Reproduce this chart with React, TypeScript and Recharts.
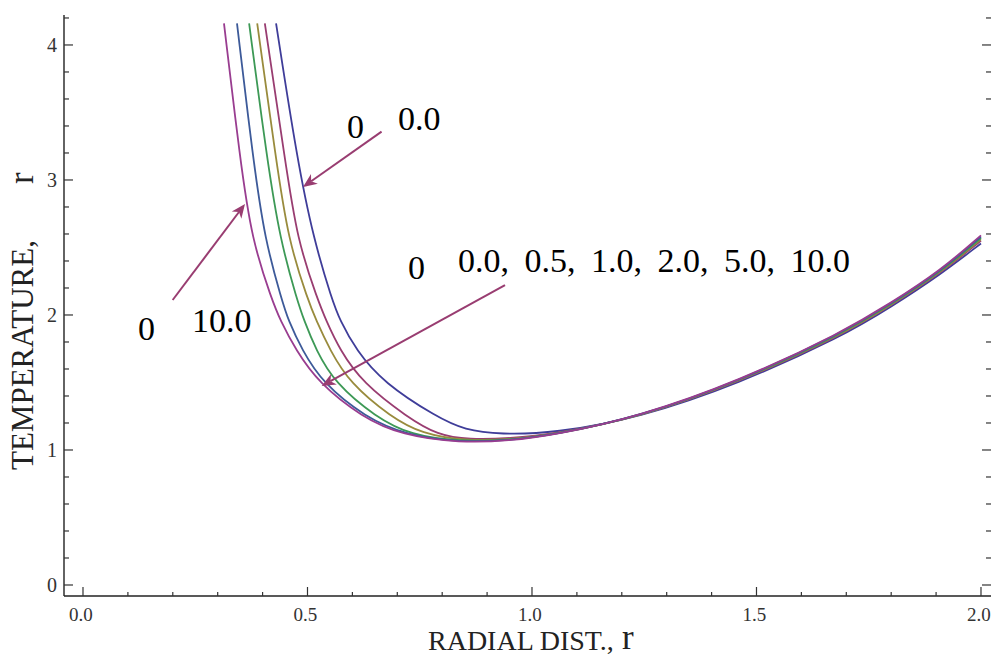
import { LineChart, Line, XAxis, YAxis, ReferenceLine, ReferenceDot } from "recharts";

// beta values of the six curves, left to right at the top of the plot
const betaValues = ["0.0", "0.5", "1.0", "2.0", "5.0", "10.0"];

// [r, theta]
const beta00 = [
  [0.43, 4.16], [0.477, 3.15], [0.514, 2.556], [0.555, 2.11], [0.572, 1.963], [0.608, 1.74],
  [0.67, 1.496], [0.788, 1.244], [0.85, 1.148], [0.93, 1.115], [1.05, 1.125],
  [1.24, 1.24], [1.46, 1.49], [1.69, 1.84], [1.8, 2.06], [1.91, 2.3], [2.0, 2.53],
];
const beta05 = [
  [0.405, 4.16], [0.45, 3.15], [0.477, 2.556], [0.523, 2.11], [0.541, 1.963], [0.572, 1.74],
  [0.623, 1.496], [0.722, 1.244], [0.79, 1.11], [0.86, 1.076], [0.95, 1.085], [1.05, 1.118],
  [1.24, 1.245], [1.46, 1.5], [1.69, 1.85], [1.8, 2.07], [1.91, 2.31], [2.0, 2.55],
];
const beta10 = [
  [0.388, 4.16], [0.43, 3.15], [0.457, 2.556], [0.501, 2.11], [0.519, 1.963], [0.55, 1.74],
  [0.594, 1.496], [0.686, 1.244], [0.755, 1.12], [0.85, 1.068], [0.95, 1.078], [1.05, 1.115],
  [1.24, 1.245], [1.46, 1.503], [1.69, 1.855], [1.8, 2.075], [1.91, 2.315], [2.0, 2.56],
];
const beta20 = [
  [0.37, 4.16], [0.41, 3.15], [0.439, 2.556], [0.477, 2.11], [0.492, 1.963], [0.519, 1.74],
  [0.561, 1.496], [0.652, 1.244], [0.73, 1.11], [0.84, 1.062], [0.95, 1.074], [1.05, 1.113],
  [1.24, 1.247], [1.46, 1.506], [1.69, 1.86], [1.8, 2.08], [1.91, 2.32], [2.0, 2.57],
];
const beta50 = [
  [0.343, 4.16], [0.379, 3.15], [0.405, 2.556], [0.443, 2.11], [0.457, 1.963], [0.488, 1.74],
  [0.534, 1.496], [0.628, 1.244], [0.72, 1.11], [0.84, 1.057], [0.95, 1.071], [1.05, 1.112],
  [1.24, 1.248], [1.46, 1.508], [1.69, 1.865], [1.8, 2.085], [1.91, 2.325], [2.0, 2.58],
];
const beta100 = [
  [0.314, 4.16], [0.35, 3.15], [0.376, 2.556], [0.421, 2.11], [0.439, 1.963], [0.474, 1.74],
  [0.525, 1.496], [0.621, 1.244], [0.71, 1.11], [0.84, 1.052], [0.95, 1.068], [1.05, 1.111],
  [1.24, 1.25], [1.46, 1.51], [1.69, 1.87], [1.8, 2.09], [1.91, 2.33], [2.0, 2.59],
];

const xTicks = [0, 0.1, 0.2, 0.3, 0.4, 0.5, 0.6, 0.7, 0.8, 0.9, 1.0, 1.1, 1.2, 1.3, 1.4, 1.5, 1.6, 1.7, 1.8, 1.9, 2.0];
const yTicks = [0, 0.2, 0.4, 0.6, 0.8, 1, 1.2, 1.4, 1.6, 1.8, 2, 2.2, 2.4, 2.6, 2.8, 3, 3.2, 3.4, 3.6, 3.8, 4, 4.2];

const series = [beta00, beta05, beta10, beta20, beta50, beta100];
const colors = ["#3f3d99", "#993d71", "#998b3d", "#3d9956", "#3d5a99", "#993d90"];
const arrowColor = "#993d71";
const serif = "'Liberation Serif', 'Times New Roman', serif";
const xDomain = [-0.0423, 2.0223];
const yDomain = [-0.0815, 4.222];

const isMajor = (v: number, step: number) => Math.abs(v / step - Math.round(v / step)) < 1e-6;

function BottomTick({ x, y, payload }: any) {
  const major = isMajor(payload.value, 0.5);
  return (
    <g>
      <line x1={x} y1={y} x2={x} y2={y - (major ? 9 : 4)} stroke="#333" strokeWidth={1.2} />
      {major && (
        <text x={x - 2} y={y + 25} textAnchor="middle" fontFamily={serif} fontSize={19} fill="#333">
          {payload.value.toFixed(1)}
        </text>
      )}
    </g>
  );
}

function TopTick({ x, y, payload }: any) {
  const major = isMajor(payload.value, 0.5);
  return <line x1={x} y1={y} x2={x} y2={y + (major ? 7 : 4)} stroke="#333" strokeWidth={1.2} />;
}

function LeftTick({ x, y, payload }: any) {
  const major = isMajor(payload.value, 1);
  return (
    <g>
      <line x1={x} y1={y} x2={x + (major ? 9 : 5)} y2={y} stroke="#333" strokeWidth={1.2} />
      {major && (
        <text x={x - 7} y={y + 7} textAnchor="end" fontFamily={serif} fontSize={20} fill="#333">
          {payload.value}
        </text>
      )}
    </g>
  );
}

function RightTick({ x, y, payload }: any) {
  const major = isMajor(payload.value, 1);
  return <line x1={x} y1={y} x2={x - (major ? 9 : 5)} y2={y} stroke="#333" strokeWidth={1.2} />;
}

function Arrow(props: any) {
  const { x1, y1, x2, y2 } = props;
  const a = Math.atan2(y2 - y1, x2 - x1);
  const len = 14;
  const half = 6;
  const bx = x2 - len * Math.cos(a);
  const by = y2 - len * Math.sin(a);
  const nx = x2 - (len - 4) * Math.cos(a);
  const ny = y2 - (len - 4) * Math.sin(a);
  const px = -Math.sin(a) * half;
  const py = Math.cos(a) * half;
  return (
    <g>
      <line x1={x1} y1={y1} x2={nx} y2={ny} stroke={arrowColor} strokeWidth={2} />
      <polygon
        points={`${x2},${y2} ${bx + px},${by + py} ${nx},${ny} ${bx - px},${by - py}`}
        fill={arrowColor}
      />
    </g>
  );
}

const label = (text: string, size = 34, spacing = 0) => (p: any) => (
  <text x={p.cx} y={p.cy} fontFamily={serif} fontSize={size} fill="#000" wordSpacing={spacing}>
    {text}
  </text>
);

export default function App() {
  return (
    <div style={{ position: "absolute", left: 0, top: 0, background: "#fff" }}>
      <LineChart width={992} height={657} margin={{ top: 14, right: 0, bottom: 60, left: 63 }}>
        <XAxis
          xAxisId={0}
          type="number"
          dataKey="r"
          domain={xDomain}
          allowDataOverflow
          ticks={xTicks}
          interval={0}
          height={1}
          tickSize={0}
          tickMargin={0}
          tickLine={false}
          tick={<BottomTick />}
          axisLine={{ stroke: "#222", strokeWidth: 1.4 }}
        />
        <XAxis
          xAxisId="top"
          orientation="top"
          type="number"
          domain={xDomain}
          allowDataOverflow
          ticks={xTicks}
          interval={0}
          height={1}
          tickSize={0}
          tickMargin={0}
          tickLine={false}
          tick={<TopTick />}
          axisLine={false}
        />
        <YAxis
          yAxisId="left"
          type="number"
          domain={yDomain}
          allowDataOverflow
          ticks={yTicks}
          interval={0}
          width={1}
          tickSize={0}
          tickMargin={0}
          tickLine={false}
          tick={<LeftTick />}
          axisLine={{ stroke: "#222", strokeWidth: 1.4 }}
        />
        <YAxis
          yAxisId="right"
          orientation="right"
          type="number"
          domain={yDomain}
          allowDataOverflow
          ticks={yTicks}
          interval={0}
          width={1}
          tickSize={0}
          tickMargin={0}
          tickLine={false}
          tick={<RightTick />}
          axisLine={false}
        />
        {series.map((pts, i) => (
          <Line
            key={betaValues[i]}
            name={betaValues[i]}
            yAxisId="left"
            data={pts.map(([r, t]) => ({ r, t }))}
            dataKey="t"
            type="basis"
            stroke={colors[i]}
            strokeWidth={1.8}
            dot={false}
            activeDot={false}
            isAnimationActive={false}
          />
        ))}

        <ReferenceLine yAxisId="left" segment={[{ x: 0.665, y: 3.358 }, { x: 0.49, y: 2.948 }]} shape={Arrow} />
        <ReferenceLine yAxisId="left" segment={[{ x: 0.1997, y: 2.111 }, { x: 0.3608, y: 2.822 }]} shape={Arrow} />
        <ReferenceLine yAxisId="left" segment={[{ x: 0.9399, y: 2.222 }, { x: 0.5316, y: 1.474 }]} shape={Arrow} />

        <ReferenceDot yAxisId="left" x={0.588} y={3.311} shape={label("0")} />
        <ReferenceDot yAxisId="left" x={0.7016} y={3.37} shape={label("0.0")} />
        <ReferenceDot yAxisId="left" x={0.1225} y={1.815} shape={label("0")} />
        <ReferenceDot yAxisId="left" x={0.2428} y={1.874} shape={label("10.0")} />
        <ReferenceDot yAxisId="left" x={0.7238} y={2.267} shape={label("0")} />
        <ReferenceDot
          yAxisId="left"
          x={0.835}
          y={2.319}
          shape={label("0.0, 0.5, 1.0, 2.0, 5.0, 10.0", 34, 7)}
        />

        <text x={33} y={470} transform="rotate(-90 33 470)" fontFamily={serif} fontSize={31} fill="#222">
          TEMPERATURE,
        </text>
        <text x={33} y={184} transform="rotate(-90 33 184)" fontFamily={serif} fontSize={35} fill="#222">
          r
        </text>
        <text x={428} y={650} fontFamily={serif} fontSize={28} fill="#222">
          RADIAL DIST.,
        </text>
        <text x={622} y={649} fontFamily={serif} fontSize={35} fill="#222">
          r
        </text>
      </LineChart>
    </div>
  );
}
